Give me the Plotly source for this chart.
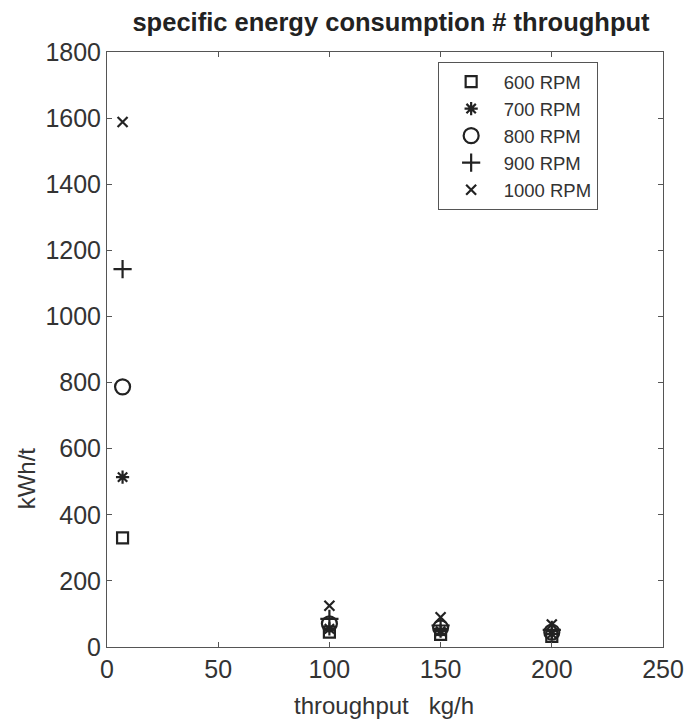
import plotly.graph_objects as go

series_names = ["600 RPM", "700 RPM", "800 RPM", "900 RPM", "1000 RPM"]
throughput = [7, 100, 150, 200]
sec_600 = [330, 45, 38, 32]
sec_700 = [514, 55, 48, 40]
sec_800 = [787, 70, 58, 45]
sec_900 = [1143, 85, 65, 52]
sec_1000 = [1588, 125, 90, 68]
all_values = [sec_600, sec_700, sec_800, sec_900, sec_1000]

x_ticks = [0, 50, 100, 150, 200, 250]
y_ticks = [0, 200, 400, 600, 800, 1000, 1200, 1400, 1600, 1800]

symbols = ["square-open", "asterisk-open", "circle-open", "cross-thin-open", "x-thin-open"]
sizes = [11, 11, 15, 13, 10]

fig = go.Figure()
for name, vals, sym, sz in zip(series_names, all_values, symbols, sizes):
    fig.add_trace(go.Scatter(
        x=throughput, y=vals, mode="markers", name=name,
        marker=dict(symbol=sym, size=sz, color="#222222",
                    line=dict(width=2.2, color="#222222")),
    ))

# page offset of 8px (browser body margin) compensated
W, H = 688, 714
L, T, R, B = 99, 44, 24, 75
PW, PH = W - L - R, H - T - B

font_family = "Liberation Sans, Arial, sans-serif"
fig.update_layout(
    width=W, height=H,
    margin=dict(l=L, r=R, t=T, b=B),
    paper_bgcolor="white", plot_bgcolor="white",
    font=dict(family=font_family, color="#333333", size=25),
    title=dict(text="<b>specific energy consumption # throughput</b>",
               x=(391 - 8) / W, xanchor="center",
               y=1 - (22 - 8) / H, yanchor="middle",
               font=dict(size=25.5, color="#222222")),
    showlegend=True,
    legend=dict(x=(443 - 107) / PW, y=1 - (62 - 52) / PH, xanchor="left", yanchor="top",
                bgcolor="white", bordercolor="#555555", borderwidth=1,
                font=dict(size=18.5, color="#333333"), itemwidth=55),
)
fig.update_xaxes(range=[0, 250], tickvals=x_ticks, ticks="inside", ticklen=5,
                 showline=True, linecolor="#555555", linewidth=1, mirror="ticks",
                 showgrid=False, zeroline=False, tickcolor="#555555")
fig.update_yaxes(range=[0, 1800], tickvals=y_ticks, ticks="inside", ticklen=5,
                 showline=True, linecolor="#555555", linewidth=1, mirror="ticks",
                 showgrid=False, zeroline=False, tickcolor="#555555")
fig.add_annotation(text="kWh/t", textangle=-90, xref="paper", yref="paper",
                   x=-(107 - 25) / PW, y=(647 - 478) / PH, showarrow=False,
                   xanchor="center", yanchor="middle",
                   font=dict(size=24, color="#333333"))
fig.add_annotation(text="throughput   kg/h", xref="paper", yref="paper",
                   x=(388 - 107) / PW, y=(647 - 705) / PH, showarrow=False,
                   xanchor="center", yanchor="middle",
                   font=dict(size=24, color="#333333"))

fig.write_html("out.html")
